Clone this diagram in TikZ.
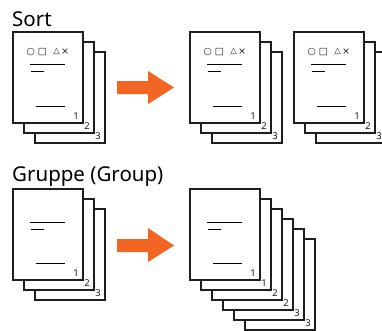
\documentclass[tikz,border=0pt]{standalone}
\usepackage{fontspec}
\setmainfont{Noto Sans}
\newfontfamily\symfont{DejaVu Sans}
\definecolor{pgline}{HTML}{1E1E1E}
\definecolor{arrorange}{HTML}{F26522}
\tikzset{
  sheetbox/.style={draw=pgline, fill=white, line width=1.2pt, anchor=north west,
    minimum width=70pt, minimum height=91pt, inner sep=0pt, outer sep=0pt},
  pgnum/.style={anchor=base east, inner sep=0pt, text=pgline,
    font=\fontsize{9.5}{10}\selectfont},
  txtline/.style={draw=black, line width=1pt},
  symb/.style={inner sep=0pt, text=pgline, font=\symfont\fontsize{9.5}{10}\selectfont},
  title/.style={anchor=base west, inner sep=0pt, text=black,
    font=\fontsize{20.5}{22}\selectfont},
  blockarrow/.style={fill=arrorange, draw=none}
}
\newcommand{\sheet}[4]{%
  \node[sheetbox] (#1) at (#2,#3) {};
  \node[pgnum] (#1n) at ([xshift=-4pt,yshift=4pt]#1.south east) {#4};
}
\newcommand{\textlines}[3]{% name, y of long line, y of short line
  \draw[txtline] ([xshift=17pt,yshift=-#2pt]#1.north west) -- ([xshift=52pt,yshift=-#2pt]#1.north west);
  \draw[txtline] ([xshift=18pt,yshift=-#3pt]#1.north west) -- ([xshift=31pt,yshift=-#3pt]#1.north west);
  \draw[txtline] ([xshift=23pt,yshift=-74.5pt]#1.north west) -- ([xshift=52pt,yshift=-74.5pt]#1.north west);
}
\newcommand{\symbolrow}[1]{%
  \node[symb] (#1c) at ([xshift=17.8pt,yshift=-20pt]#1.north west) {○};
  \node[symb] (#1s) at ([xshift=29.3pt,yshift=-20pt]#1.north west) {□};
  \node[symb, font=\symfont\fontsize{8.5}{9}\selectfont] (#1t) at ([xshift=43.7pt,yshift=-19.5pt]#1.north west) {△};
  \node[symb, font=\symfont\fontsize{9.5}{10}\selectfont] (#1x) at ([xshift=52.2pt,yshift=-20pt]#1.north west) {×};
}
\begin{document}
\begin{tikzpicture}[x=1pt,y=-1pt]
\useasboundingbox (0,0) rectangle (382,330);

% ---------- Sort ----------
\node[title] (sorttitle) at (12,26) {Sort};

\sheet{sin3}{35}{52}{3}
\sheet{sin2}{24}{42}{2}
\sheet{sin1}{13}{32}{1}
\symbolrow{sin1}
\textlines{sin1}{32}{39}

\fill[blockarrow] (117,81) -- (148,81) -- (148,71) -- (174,87.5) -- (148,104) -- (148,94) -- (117,94) -- cycle;

\sheet{sa3}{212}{52}{3}
\sheet{sa2}{201}{42}{2}
\sheet{sa1}{190}{32}{1}
\symbolrow{sa1}
\textlines{sa1}{32}{39}

\sheet{sb3}{316}{52}{3}
\sheet{sb2}{305}{42}{2}
\sheet{sb1}{294}{32}{1}
\symbolrow{sb1}
\textlines{sb1}{32}{39}

% ---------- Gruppe ----------
\node[title] (grouptitle) at (12,181) {Gruppe (Group)};

\sheet{gin3}{35}{209}{3}
\sheet{gin2}{24}{199}{2}
\sheet{gin1}{13}{189}{1}
\textlines{gin1}{33}{40}

\fill[blockarrow] (117,239) -- (148,239) -- (148,228) -- (174,245.5) -- (148,262) -- (148,252) -- (117,252) -- cycle;

\sheet{go6}{245}{239}{3}
\sheet{go5}{234}{229}{3}
\sheet{go4}{223}{219}{2}
\sheet{go3}{212}{209}{2}
\sheet{go2}{201}{199}{1}
\sheet{go1}{190}{189}{1}
\textlines{go1}{33}{40}
\end{tikzpicture}
\end{document}
